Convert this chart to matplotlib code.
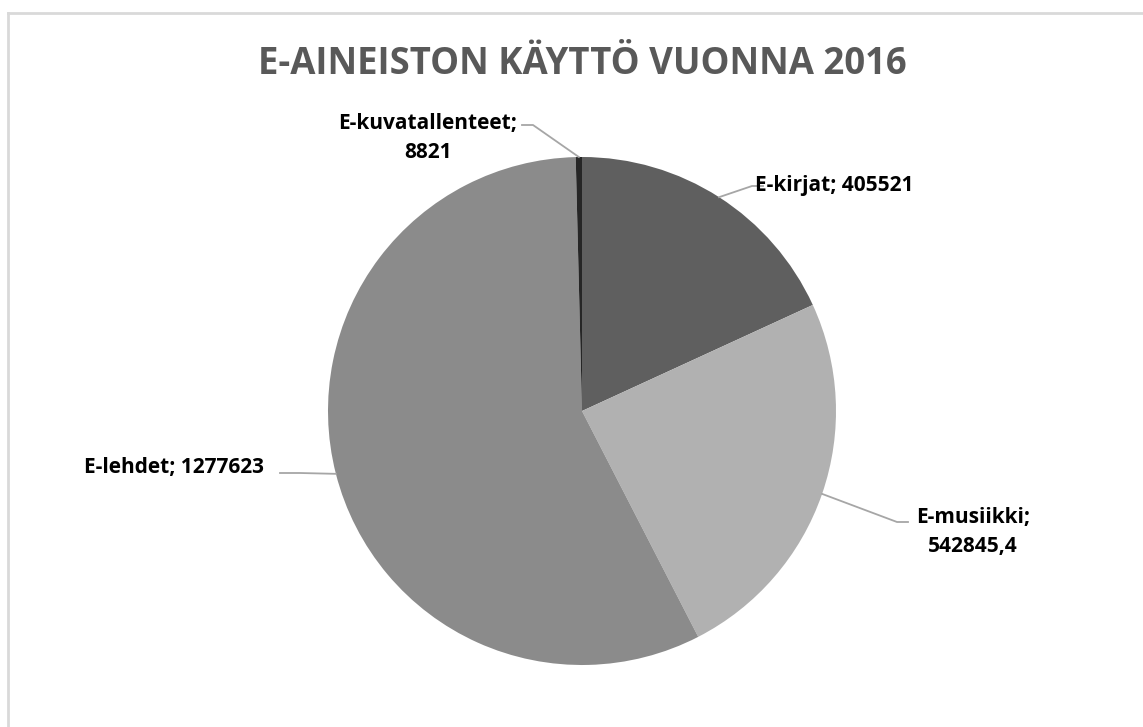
import numpy as np
import matplotlib
matplotlib.use("Agg")
import matplotlib.pyplot as plt
from matplotlib.lines import Line2D

# data
labels = ["E-kirjat", "E-musiikki", "E-lehdet", "E-kuvatallenteet"]
values = [405521, 542845.4, 1277623, 8821]
value_texts = ["405521", "542845,4", "1277623", "8821"]
colors = ["#5f5f5f", "#b1b1b1", "#8b8b8b", "#262626"]

W, H = 1143, 727
CX, CY, R = 582, 727 - 411, 254

plt.rcParams["font.family"] = ["Open Sans", "DejaVu Sans"]

fig = plt.figure(figsize=(W / 100, H / 100), dpi=100)
ax = fig.add_axes([0, 0, 1, 1])

wedges, _ = ax.pie(values, colors=colors, startangle=90, counterclock=False,
                   center=(CX, CY), radius=R, frame=True,
                   wedgeprops=dict(linewidth=0))
ax.set_xlim(0, W)
ax.set_ylim(0, H)
ax.set_aspect("equal")
ax.axis("off")

# chart border (only top and left visible in reference)
fig.add_artist(Line2D([8 / W, 8 / W], [0, 1 - 13 / H], color="#d9d9d9", lw=2,
                      transform=fig.transFigure))
fig.add_artist(Line2D([8 / W, 1], [1 - 13 / H, 1 - 13 / H], color="#d9d9d9", lw=2,
                      transform=fig.transFigure))

fig.text(582 / W, 1 - 64 / H, "E-AINEISTON KÄYTTÖ VUONNA 2016", ha="center",
         va="center", fontsize=26.3, fontweight="bold", color="#595959")

# label layout: text centre, elbow point, line end (pixels from top-left)
layout = {
    "E-kirjat": dict(text=(834, 186), two=False, elbow=(752, 186), end=(763, 186)),
    "E-musiikki": dict(text=(973, 532), two=True, elbow=(897, 522), end=(908, 522)),
    "E-lehdet": dict(text=(174, 467), two=False, elbow=(300, 473), end=(280, 473)),
    "E-kuvatallenteet": dict(text=(428, 138), two=True, elbow=(533, 125), end=(522, 125)),
}

for w, lab, vt in zip(wedges, labels, value_texts):
    mid = np.deg2rad((w.theta1 + w.theta2) / 2)
    ex = CX + R * np.cos(mid)
    ey = CY + R * np.sin(mid)
    L = layout[lab]
    pts = [(ex, ey), (L["elbow"][0], H - L["elbow"][1]), (L["end"][0], H - L["end"][1])]
    ax.plot([p[0] for p in pts], [p[1] for p in pts], color="#a6a6a6", lw=1.3)
    s = f"{lab};\n{vt}" if L["two"] else f"{lab}; {vt}"
    ax.text(L["text"][0], H - L["text"][1], s, ha="center", va="center",
            fontsize=15, fontweight="bold", color="black", linespacing=1.5)

fig.savefig("out.png", dpi=100, facecolor="white")
